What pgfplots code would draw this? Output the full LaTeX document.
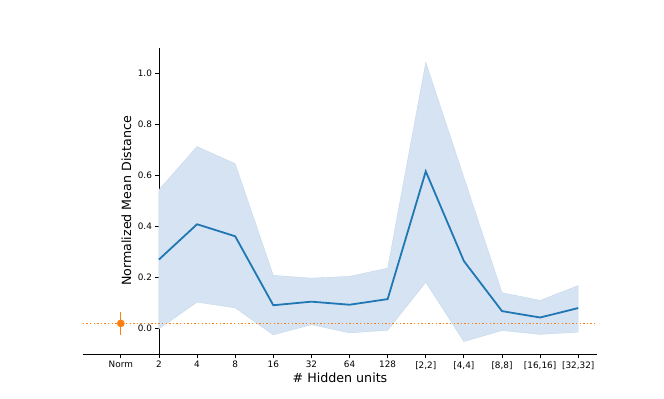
\documentclass[border=0pt]{standalone}
\usepackage{fontspec}
\setmainfont{DejaVu Sans}
\usepackage{pgfplots}
\pgfplotsset{compat=1.18}
\usepgfplotslibrary{fillbetween}

\definecolor{tabblue}{HTML}{1F77B4}
\definecolor{taborange}{HTML}{FF7F0E}
\definecolor{bandfill}{RGB}{214,227,242}

% category index: Norm=-1, 2=0, 4=1, ..., [32,32]=11
\pgfplotstableread{
x   mean   lo      hi
0   0.271  0.000   0.544
1   0.409  0.104   0.713
2   0.362  0.082   0.646
3   0.092  -0.024  0.209
4   0.106  0.016   0.198
5   0.094  -0.016  0.205
6   0.116  -0.006  0.237
7   0.616  0.182   1.043
8   0.265  -0.050  0.592
9   0.069  -0.007  0.141
10  0.044  -0.022  0.111
11  0.081  -0.013  0.169
}\hiddendata

\begin{document}
\begin{tikzpicture}
\begin{axis}[
    at={(82.7bp,44.7bp)},
    anchor=south west,
    scale only axis,
    width=514.6bp,
    height=306.6bp,
    xmin=-2, xmax=11.5,
    ymin=-0.1, ymax=1.1,
    axis x line*=bottom,
    axis y line*=middle,
    axis line style={-, black, line width=0.8bp},
    hide obscured x ticks=false,
    hide obscured y ticks=false,
    tick align=outside,
    major tick length=3.5bp,
    tick style={black, line width=0.8bp},
    xtick={-1,0,...,11},
    xticklabels={Norm,2,4,8,16,32,64,128,{[2,2]},{[4,4]},{[8,8]},{[16,16]},{[32,32]}},
    ytick={0,0.2,0.4,0.6,0.8,1.0},
    yticklabel style={/pgf/number format/.cd, fixed, fixed zerofill, precision=1},
    /pgf/number format/assume math mode=true,
    ticklabel style={font=\fontsize{8.9}{10}\selectfont},
    xlabel={\# Hidden units},
    ylabel={Normalized Mean Distance},
    label style={font=\fontsize{12.7}{14}\selectfont},
    xlabel style={at={(axis description cs:0.5,-0.0936)}, anchor=base},
    ylabel style={at={(axis description cs:0.094,0.5)}, anchor=base},
    clip=false,
]
\addplot[name path=upper, draw=none, forget plot] table[x=x, y=hi] {\hiddendata};
\addplot[name path=lower, draw=none, forget plot] table[x=x, y=lo] {\hiddendata};
\addplot[fill=bandfill, draw=bandfill!90!tabblue, line width=0.4bp] fill between[of=upper and lower];
\addplot[color=tabblue, line width=1.8bp] table[x=x, y=mean] {\hiddendata};
\addplot[color=taborange, line width=1.4bp, dash pattern=on 1.4bp off 2.2bp]
    coordinates {(-2,0.021) (11.5,0.021)};
\addplot[color=taborange, only marks, mark=*, mark size=3.6bp,
    error bars/.cd, y dir=both, y explicit,
    error bar style={color=taborange, line width=1.3bp},
    error mark=-,
    error mark options={color=taborange, line width=1.3bp, mark size=3bp}]
    coordinates {(-1,0.021) +- (0,0.033)};
\end{axis}
\pgfresetboundingbox
\useasboundingbox (0,0) rectangle (664bp,399bp);
\end{tikzpicture}
\end{document}
